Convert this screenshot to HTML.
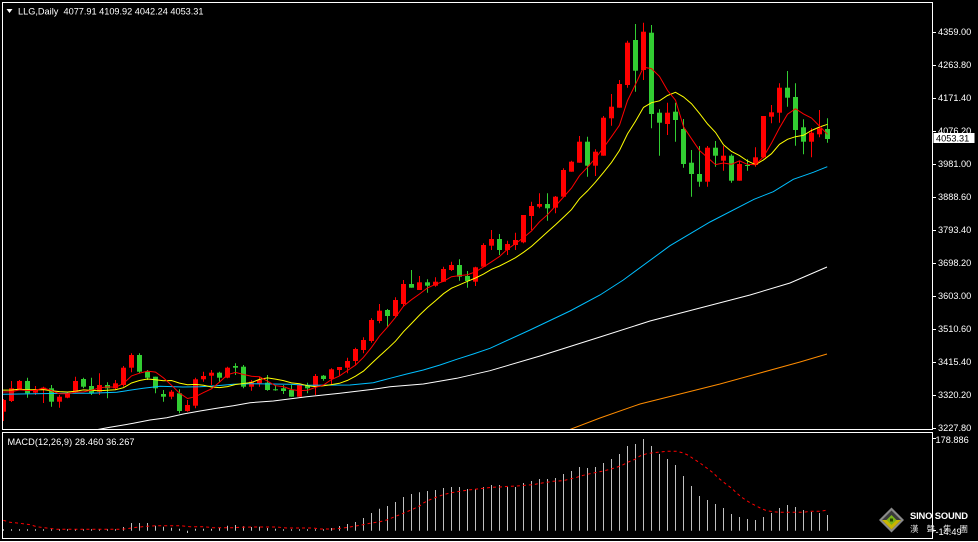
<!DOCTYPE html>
<html><head><meta charset="utf-8">
<style>
html,body{margin:0;padding:0;background:#000;}
svg{display:block;}
text{font-family:"Liberation Sans","Noto Sans CJK TC",sans-serif;}
</style></head>
<body>
<svg id="s" width="978" height="542" xmlns="http://www.w3.org/2000/svg">
<rect width="978" height="542" fill="#000"/>
<defs>
<clipPath id="cm"><rect x="3" y="3" width="929" height="426"/></clipPath>
<clipPath id="cd"><rect x="3" y="433" width="929" height="105"/></clipPath>
</defs>
<g id="candles" clip-path="url(#cm)"></g>
<g clip-path="url(#cm)" fill="none" stroke-width="1">
<polyline stroke="#00bfff" points="2,394.3 66.7,393.3 90,393.3 116.7,392.3 126.7,390.7 143.3,388.3 160,386.3 183,387 200,386.7 216.7,385.7 233.3,384.3 250,383.7 290,384.3 306.7,385.3 350,385 373.3,382.7 390,378.3 406.7,374 423.3,370 440,365 456.7,359.3 473.3,354 490,348.3 530,330 570,311 600,295 623.3,280 670,245.7 710,222 754,199.3 773.3,191.7 793.3,179.3 813.3,172.3 827.3,166.7"/>
<polyline stroke="#ffffff" points="95,430 110,427.3 133.3,423.3 150,420 166.7,417.7 183.3,414 200,411 216.7,408.3 233.3,405.7 250,402.7 273.3,401 306.7,396.7 340,393.3 373.3,389.3 390,386.7 423.3,384 456.7,378.3 490,370.7 540,356 600,337 650,321 700,308 750,295 790,283 827,267"/>
<polyline stroke="#ff8c00" points="566,431 600,418 640,404 680,394 720,384 760,373 800,362 827,354"/>
<polyline id="ma10" stroke="#ffff00" points=""/>
<polyline id="ma5" stroke="#ff0000" points=""/>
</g>
<g id="hist" clip-path="url(#cd)" stroke="#c0c0c0" stroke-width="1"></g>
<polyline clip-path="url(#cd)" fill="none" stroke="#ff0000" stroke-width="1" stroke-dasharray="3,3" points="3.3,520.3 10,522.3 20,523.3 30,524.7 36.7,526.7 46.7,528 56.7,529.3 120,529.3 126.7,528.7 136.7,527.3 146.7,526.3 156.7,525.7 180,525.7 190,526.7 203.3,526.7 213.3,527.7 233.3,527.7 240,527.3 253.3,527 276.7,527 286.7,528 313.3,528 320,529 333.3,529 343.3,528 350,527 360,525.3 370,523.3 380,521.7 386.7,520 393.3,517.3 403.3,513.3 413.3,509 420,505.7 423.3,503 430,499.7 436.7,497 443.3,494.7 450,493 460,491.3 468.3,490 475,489.3 483.3,488.3 491.7,487.3 500,487 508.3,486.3 516.7,486 525,485.3 533.3,484.7 540,483.3 546.7,482.3 553.3,481.3 563.3,480.7 570,479 576.7,477.3 583.3,475.3 590,473.7 596.7,472.3 603.3,471 610,469.3 616.7,467.3 623.3,464.7 628.3,462 635,459.3 640,456 646.7,453.7 653.3,452.7 660,452 666.7,451.3 676.7,451.3 683.3,453 688.3,455.3 693.3,458.7 700,463 706.7,468 713.3,473 718.3,478 725,483.3 731.7,488.3 736.7,493 741.7,497.3 748.3,501.7 755,505.3 761.7,508.7 766.7,510.7 773.3,511.7 780,512.3 803.3,512.3 810,511.3 820,511.3 826,510.3"/>
<!-- frames -->
<g fill="none" stroke="#ffffff" stroke-width="1">
<path d="M2.5,2.5 H932.5 V429.5 H2.5 Z"/>
<path d="M2.5,432.5 H932.5 V538.5 H2.5 Z"/>
<path d="M0,541.5 H978"/>
</g>
<g id="ticks" stroke="#ffffff" stroke-width="1"></g>
<g id="labels" fill="#ffffff" font-size="9.2"></g>
<!-- price box -->
<rect x="933.5" y="133" width="41" height="10" fill="#ffffff"/>
<text x="936" y="141.5" font-size="9.2" fill="#000">4053.31</text>
<!-- MACD axis -->
<text x="935.5" y="443" font-size="9.2" fill="#ffffff">178.886</text>
<text x="935.5" y="535" font-size="9.2" fill="#ffffff">-14.49</text>
<!-- header -->
<polygon points="6.5,9 12.5,9 9.5,13" fill="#ffffff"/>
<text x="18" y="14.5" font-size="9.2" fill="#ffffff">LLG,Daily</text>
<text x="63.5" y="14.5" font-size="9.2" fill="#ffffff" textLength="140">4077.91 4109.92 4042.24 4053.31</text>
<text x="7.5" y="445" font-size="9.2" fill="#ffffff" textLength="127">MACD(12,26,9) 28.460 36.267</text>
<!-- logo -->
<polygon points="891.5,507.5 904,520 891.5,532.5 879,520" fill="#8a8a8a"/>
<polygon points="891.5,510.5 901,520 891.5,529.5 882,520" fill="#3a3a3a"/>
<polygon points="882,520 901,520 891.5,529.5" fill="#c8b400"/>
<polygon points="891.5,515 896.5,520 891.5,525 886.5,520" fill="#7ab317"/>
<rect x="890" y="518.5" width="3" height="3" fill="#2a4a00"/>
<text x="910" y="519" font-size="9.4" font-weight="bold" fill="#ffffff" textLength="58">SINO SOUND</text>
<text x="910" y="532" font-size="8.5" fill="#dddddd" textLength="58">漢 聲 集 團</text>
</svg>
<script>
const C=[
['r',400,411.7,399,421],['r',388.3,401,381,402],['r',381,389.3,380,390],['g',381,393.3,377.7,397.7],['r',389.3,392.7,386,395],
['r',387.7,389.3,386.7,403],['g',388.3,401.7,385,406.7],['r',396.7,401.7,395,407.7],['r',393.3,397.7,391.7,398.3],['r',381,391.7,376.7,393.3],
['g',379,386.7,377.7,388.3],['g',386,393.3,377.7,395],['r',385,391.7,373.3,395],['g',385,388.3,382.3,398.3],['r',383.3,388.3,380,390],
['r',367.7,385,366,386.7],['r',355,367.7,353.3,372.3],['g',355,371.7,353.3,373.3],['g',371.7,377.7,370,380],['g',376.7,388.3,376.7,393.3],
['g',394,396.7,390,401.7],['r',391.7,396.7,390,399.3],['g',393.3,411,389.3,413.3],['r',405,411,400,411.7],['r',379.3,405.7,377.7,408.3],
['r',376,379.3,371.7,381.7],['r',372.7,375.7,370,385],['g',372.7,377.7,371.7,381.7],['r',367.7,377.7,366.7,378.3],['g',366,367.7,363.3,375],
['g',366.7,386.7,365,388.3],['r',381.7,386.7,380,390.7],['r',380,383.3,376.7,386.7],['g',382.7,390,375,390.7],['g',389.3,390.3,385,390.7],
['g',388.3,391,385,394],['g',390,396.7,385,396.7],['r',385,396.7,384,396.7],['g',385,388.3,382.7,393.3],['r',376,386.7,374,395],
['g',375.7,379,375,380.7],['r',369.3,379,368.3,385],['r',367,370,367,375.7],['r',361,367.7,357.7,373.3],['r',349,361,347.7,365],
['r',340,350,337.3,353.3],['r',320,341,318.3,342.7],['r',310.7,321,304,323.3],['g',310,316,309,326.7],['r',300,316,297.3,317.3],
['r',284,304,280,306.7],['g',284,287.7,270,287.7],['r',282.3,290,276,290],['g',282.3,285.7,279.3,292.7],['r',281.7,285.7,277.3,286.7],
['r',269,281.7,266.7,281.7],['r',265,270,261.7,271],['g',265,276.7,259.3,280.7],['g',276,281,271,287.7],['r',267.3,281.7,266.7,286],
['r',245,266.7,243.3,266.7],['r',239,245.7,230,250],['g',239,250,234,255],['r',244,250,240.7,255],['r',240,245,232.7,250],
['r',215,242.3,215,243.3],['r',206,216,201.7,230],['r',204,206.7,193.3,208.3],['g',204,208.3,193.3,220.7],['r',196.7,207.7,196,213.3],
['r',170,196.7,168.3,197.3],['r',161.7,171.7,160.7,171.7],['r',141.7,162.7,136,162.7],['g',141.7,165.7,136.7,176.7],['r',151.7,165.7,149.3,176],
['r',117.7,155.7,116,155.7],['r',106.7,118.3,94,125.7],['r',84,107.7,80,107.7],['r',42.7,85,40.7,87.7],['g',40,70.7,24,91.7],
['r',31.7,70,22.7,80],['g',32.7,114,25,128.3],['g',112.7,122.7,109.3,155.7],['r',112.7,124,102.7,135],['g',111.7,120,102.7,141.7],
['g',129,164,119,167.7],['g',162.7,174,150,196.7],['g',174,181.7,146,186.7],['r',147.7,181.7,146,186.7],['g',147.7,155.7,141,166.7],
['r',155.7,160.7,146,170.7],['g',155.7,180.7,154.3,182.7],['r',164,180.7,160.7,180.7],['g',165,166,159.3,170.7],['r',157.3,165,147.3,166.7],
['r',116,157.3,116,158.3],['r',112.3,116.7,105,123.3],['r',87.7,112.7,83.3,122.7],['g',87.7,97.7,71,106.7],['g',97,130,83.3,145.7],
['g',127.3,141.7,119.3,154.3],['r',132.7,141.7,128.3,157.3],['r',128.3,134.3,110,137.3],['g',129,139,118.3,142.7]
];
const H=[529.3,529.3,529.3,529.3,529.3,529.3,529.3,529.3,529.3,529.3,529.3,529.3,529.3,529.3,529.3,
527,523,523,523,525.7,526.7,527.7,528.7,533,528.7,528.7,528.7,527.7,525.7,525,526.3,527,526.7,528,528.7,
529.3,529.3,529.3,529.3,529.3,529.3,528,526,524,522,518,513,508.7,506,502,497,494,492.3,
491,490,488,487,487,489,489,487,485,485,487,487,483,481,479,479,478,474,471,467,468,467,463,459,454,446,444,439,446,454,459,465,476,486,496,500,504,508,514,517,519,520,517,513,508,505,507,510,512,513,515];
const NS="http://www.w3.org/2000/svg";
function el(t,a,p){const e=document.createElementNS(NS,t);for(const k in a)e.setAttribute(k,a[k]);p.appendChild(e);return e;}
const cg=document.getElementById('candles');
const close=[];
C.forEach((c,i)=>{
  const x=3.5+8*i, col=c[0]==='r'?'#ff0000':'#32cd32';
  close.push(c[0]==='r'?c[1]:c[2]);
  el('line',{x1:x,x2:x,y1:c[3],y2:c[4],stroke:col,'stroke-width':1},cg);
  el('rect',{x:x-2.5,y:c[1],width:5,height:Math.max(1,c[2]-c[1]),fill:col},cg);
});
function ma(n,pad){const p=[];for(let i=0;i<close.length;i++){let s=0;for(let k=i-n+1;k<=i;k++)s+=k<0?pad:close[k];p.push((3.5+8*i)+','+(s/n).toFixed(1));}return ['0,'+(p[0].split(',')[1])].concat(p).join(' ');}
document.getElementById('ma5').setAttribute('points',ma(5,390));
document.getElementById('ma10').setAttribute('points',ma(10,389));
const hg=document.getElementById('hist');
H.forEach((y,i)=>{const x=3.5+8*i;el('line',{x1:x,x2:x,y1:530.7,y2:y},hg);});
const tg=document.getElementById('ticks'), lg=document.getElementById('labels');
const L=['4359.00','4263.80','4171.40','4076.20','3981.00','3888.60','3793.40','3698.20','3603.00','3510.60','3415.40','3320.20','3227.80'];
L.forEach((t,k)=>{const y=31.7+33*k;el('line',{x1:933,x2:936,y1:Math.round(y)+0.5,y2:Math.round(y)+0.5},tg);const e=el('text',{x:938,y:y+3.3},lg);e.textContent=t;});
el('line',{x1:933,x2:936,y1:438.5,y2:438.5},tg);
el('line',{x1:933,x2:936,y1:530.5,y2:530.5},tg);
</script>
</body></html>
